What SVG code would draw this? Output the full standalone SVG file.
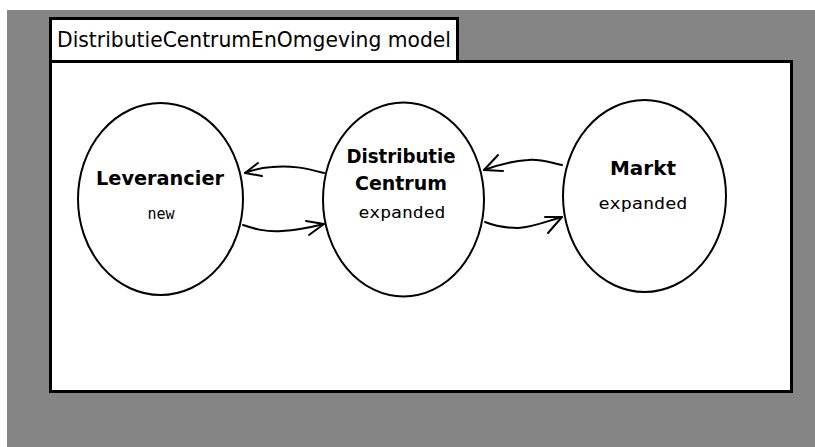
<svg xmlns="http://www.w3.org/2000/svg" width="815" height="447" viewBox="0 0 815 447">
  <style>
    .frame { fill: #ffffff; stroke: #000000; stroke-width: 3; }
    .node { fill: #ffffff; stroke: #000000; stroke-width: 2; }
    .name { font-family: "DejaVu Sans", "Liberation Sans", sans-serif; font-weight: bold; font-size: 19px; fill: #000; text-anchor: middle; }
    .state { font-family: "DejaVu Sans Mono", "Liberation Mono", monospace; font-size: 15px; fill: #000; text-anchor: middle; }
    .title { font-family: "DejaVu Sans", "Liberation Sans", sans-serif; font-size: 21px; fill: #000; }
    .link { fill: none; stroke: #000000; stroke-width: 2; stroke-linecap: round; stroke-linejoin: round; }
  </style>

  <!-- desktop backdrop -->
  <rect x="0" y="0" width="815" height="447" fill="#ffffff"/>
  <rect x="7" y="10" width="808" height="437" fill="#858585"/>

  <!-- model window -->
  <g id="window">
    <rect class="frame" x="50.5" y="61.5" width="741" height="330"/>
    <rect class="frame" x="50.5" y="18.5" width="407" height="43"/>
    <text class="title" x="57" y="47" textLength="394" lengthAdjust="spacingAndGlyphs">DistributieCentrumEnOmgeving model</text>
  </g>

  <g id="connectors">
    <!-- DistributieCentrum -> Leverancier -->
    <path class="link" d="M324,173 C305,168 290,165 272,167 C258,168 250,171 245,173"/>
    <path class="link" d="M258,163 L245,173 L262,176"/>
    <!-- Leverancier -> DistributieCentrum -->
    <path class="link" d="M243,225 C255,229 265,232 282,231 C300,230 312,227 324,224"/>
    <path class="link" d="M306,221 L324,224 L309,235"/>
    <!-- Markt -> DistributieCentrum -->
    <path class="link" d="M562,165 C548,162 540,159 528,160 C510,161 495,166 484,170"/>
    <path class="link" d="M498,155 L484,170 L503,171"/>
    <!-- DistributieCentrum -> Markt -->
    <path class="link" d="M485,222 C495,226 505,228 518,228 C535,227 550,220 562,217"/>
    <path class="link" d="M545,217 L562,217 L548,233"/>
  </g>

  <g id="leverancier">
    <ellipse class="node" cx="160.5" cy="199" rx="82.5" ry="96"/>
    <text class="name" x="160" y="185" textLength="128" lengthAdjust="spacingAndGlyphs">Leverancier</text>
    <text class="state" x="161" y="219">new</text>
  </g>

  <g id="distributiecentrum">
    <ellipse class="node" cx="403.5" cy="199.5" rx="80.5" ry="97"/>
    <text class="name" x="401" y="163" textLength="109" lengthAdjust="spacingAndGlyphs">Distributie</text>
    <text class="name" x="401" y="190" textLength="92" lengthAdjust="spacingAndGlyphs">Centrum</text>
    <text class="state" x="402" y="218" textLength="87" lengthAdjust="spacingAndGlyphs">expanded</text>
  </g>

  <g id="markt">
    <ellipse class="node" cx="644.5" cy="196" rx="81.5" ry="96"/>
    <text class="name" x="643" y="175" textLength="66" lengthAdjust="spacingAndGlyphs">Markt</text>
    <text class="state" x="643" y="209" textLength="89" lengthAdjust="spacingAndGlyphs">expanded</text>
  </g>
</svg>
